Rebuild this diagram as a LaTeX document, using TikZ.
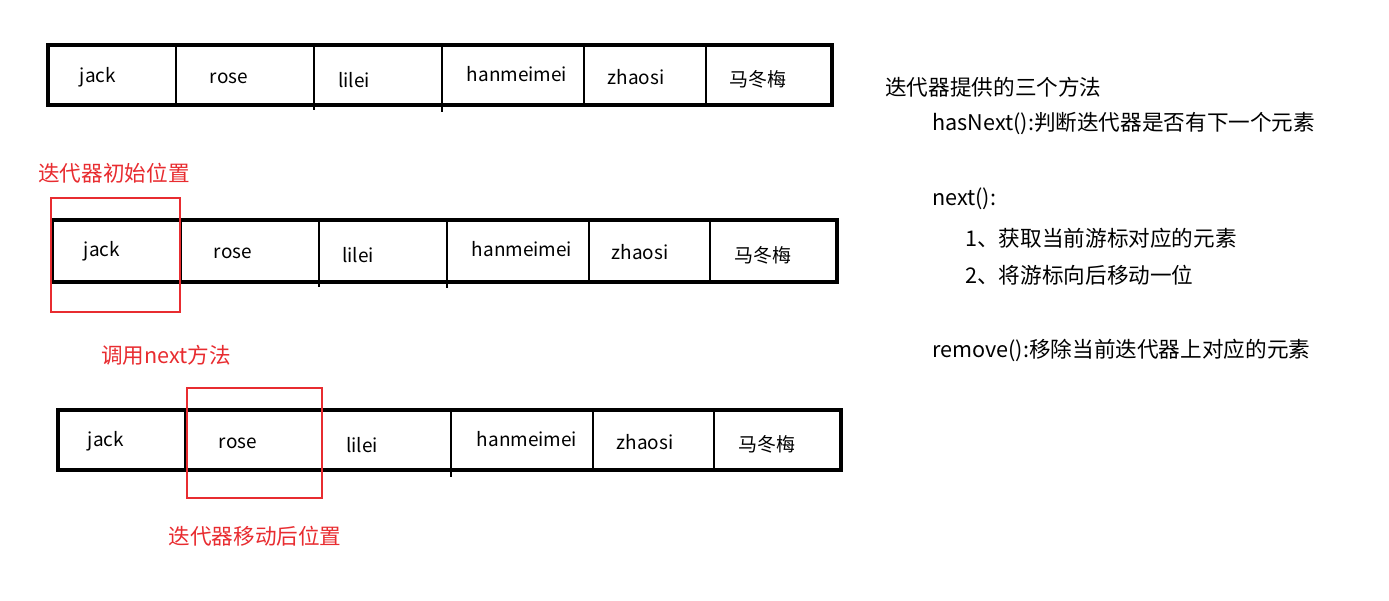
\documentclass[tikz,border=0pt]{standalone}
\usepackage{fontspec}
\setmainfont{Noto Sans CJK SC}
\definecolor{markred}{RGB}{232,44,48}
\tikzset{
  rowframe/.style={line width=1.9pt},
  celltext/.style={inner sep=0pt, yshift=-1.1pt, text height=0.75em, text depth=0.2em, font=\fontsize{10.8}{13}\selectfont},
  markbox/.style={draw=markred, line width=1.5pt},
  marklabel/.style={inner sep=0pt, text=markred, font=\fontsize{12.3}{15}\selectfont},
  methodtext/.style={inner sep=0pt, anchor=west, font=\fontsize{12.3}{15}\selectfont}
}
\begin{document}
\begin{tikzpicture}[x=0.02cm, y=-0.02cm]
\useasboundingbox (0,0) rectangle (1389,600);

% first row
\draw[rowframe] (48,45) rectangle (832,105);
\draw[line width=1.4pt] (176,45) -- (176,105) (314,45) -- (314,110) (442,45) -- (442,112) (584,45) -- (584,105) (706,45) -- (706,105);
\node[celltext] (a1) at (98,76) {jack};
\node[celltext] (a2) at (229,77) {rose};
\node[celltext] (a3) at (354,81) {lilei};
\node[celltext] (a4) at (517,75) {hanmeimei};
\node[celltext] (a5) at (636,78) {zhaosi};
\node[celltext] (a6) at (758,80) {马冬梅};

% second row, iterator at start
\node[marklabel] (startlbl) at (114,173) {迭代器初始位置};
\draw[rowframe] (52,220) rectangle (837,282);
\draw[line width=1.4pt] (181,220) -- (181,282) (319,220) -- (319,287) (447,220) -- (447,288) (589,220) -- (589,282) (710,220) -- (710,282);
\node[celltext] (b1) at (102,250) {jack};
\node[celltext] (b2) at (233,252) {rose};
\node[celltext] (b3) at (358,256) {lilei};
\node[celltext] (b4) at (522,250) {hanmeimei};
\node[celltext] (b5) at (640,253) {zhaosi};
\node[celltext] (b6) at (763,256) {马冬梅};
\draw[markbox] (51,198) rectangle (180,312);

% third row, after next()
\node[marklabel] (nextlbl) at (166,355) {调用next方法};
\draw[rowframe] (58,410) rectangle (841,470);
\draw[line width=1.4pt] (185,410) -- (185,470) (322,410) -- (322,470) (451,410) -- (451,477) (593,410) -- (593,470) (714,410) -- (714,470);
\node[celltext] (c1) at (106,440) {jack};
\node[celltext] (c2) at (238,442) {rose};
\node[celltext] (c3) at (362,446) {lilei};
\node[celltext] (c4) at (527,440) {hanmeimei};
\node[celltext] (c5) at (645,443) {zhaosi};
\node[celltext] (c6) at (767,445) {马冬梅};
\draw[markbox] (187,388) rectangle (322,498);
\node[marklabel] (movedlbl) at (255,536) {迭代器移动后位置};

% methods
\node[methodtext] (title) at (885,87) {迭代器提供的三个方法};
\node[methodtext] (hasnext) at (932,124) {hasNext():判断迭代器是否有下一个元素};
\node[methodtext] (next) at (932,199) {next():};
\node[methodtext] (step1) at (965,238) {1、获取当前游标对应的元素};
\node[methodtext] (step2) at (965,275) {2、将游标向后移动一位};
\node[methodtext] (remove) at (932,350) {remove():移除当前迭代器上对应的元素};
\end{tikzpicture}
\end{document}
